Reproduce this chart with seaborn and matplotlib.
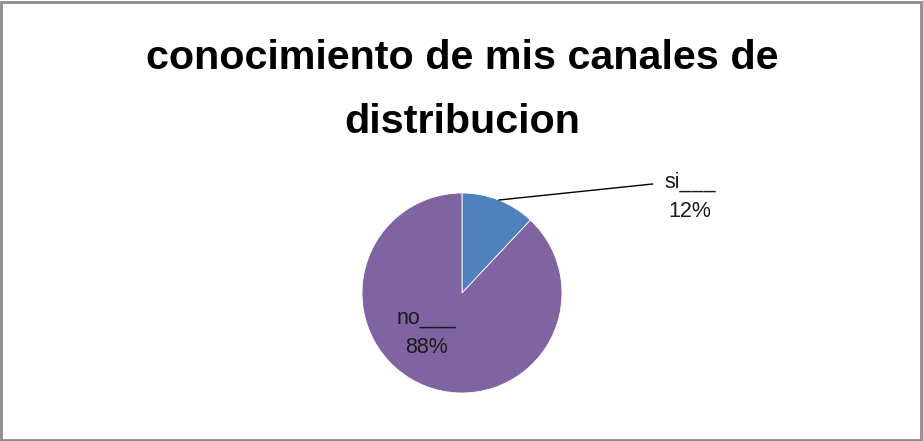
import numpy as np
import matplotlib
matplotlib.use("Agg")
import matplotlib.pyplot as plt
import seaborn as sns

categories = ["si", "no"]
values = [12, 88]
colors = ["#4F81BD", "#8064A2"]
title = "conocimiento de mis canales de\ndistribucion"

sns.set_theme(style="white")
plt.rcParams['font.family'] = ['Liberation Sans', 'DejaVu Sans']

W, H = 923, 441
fig = plt.figure(figsize=(W / 100, H / 100), dpi=100)
fig.patch.set_facecolor("white")

# border
border = plt.Rectangle((0.001, 0.002), 0.997, 0.994, transform=fig.transFigure,
                       fill=False, edgecolor="#8c8c8c", linewidth=2.0)
fig.add_artist(border)

cx, cy, r = 462, 293, 100
ax = fig.add_axes([(cx - r) / W, (H - cy - r) / H, 2 * r / W, 2 * r / H])
wedges, _ = ax.pie(values, colors=colors, startangle=90, counterclock=False,
                   wedgeprops=dict(linewidth=0.6, edgecolor="#ffffff"))
ax.set_xlim(-1, 1)
ax.set_ylim(-1, 1)
ax.set_aspect("equal")
ax.axis("off")

# labels
w0 = wedges[0]
ang = np.deg2rad((w0.theta1 + w0.theta2) / 2)
ax.annotate(f"{categories[0]}___\n{values[0]}%", xy=(np.cos(ang), np.sin(ang)),
            xytext=(2.28, 0.96), textcoords="data", ha="center", va="center",
            fontsize=15.5, color="#1a1a1a", linespacing=1.55,
            arrowprops=dict(arrowstyle="-", color="black", lw=1.0,
                            relpos=(0.0, 0.78), shrinkA=6, shrinkB=0),
            annotation_clip=False)
ax.text(-0.36, -0.40, f"{categories[1]}___\n{values[1]}%", ha="center", va="center",
        fontsize=15.5, color="#1a1a1a", linespacing=1.55)

fig.text(462 / W, 1 - 90 / H, title, ha="center", va="center", fontsize=29.7,
         fontweight="bold", color="black", linespacing=1.84)

fig.savefig("out.png", dpi=100, facecolor="white")
